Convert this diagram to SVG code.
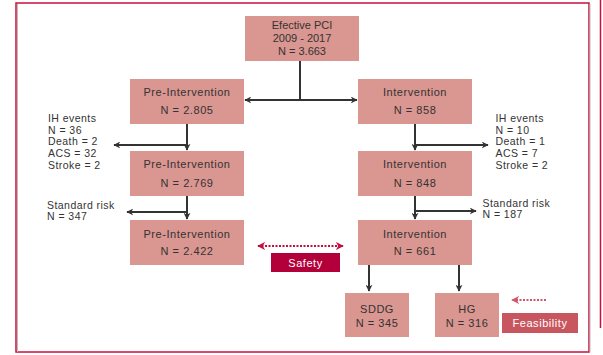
<svg xmlns="http://www.w3.org/2000/svg" width="603" height="355" viewBox="0 0 603 355">
<defs>
<style>
.box{fill:#DA9690;}
.t{font-family:"Liberation Sans",Arial,sans-serif;font-size:11px;fill:#333;letter-spacing:0.55px;}
.s{font-size:10.5px;letter-spacing:0.45px;}
.n{letter-spacing:0;}
.c{text-anchor:middle;}
.w{fill:#fff;}
.ln{stroke:#333;stroke-width:2;fill:none;}
.dot{stroke:#C0103F;stroke-width:2.2;fill:none;stroke-dasharray:2 1.5;}
.dot2{stroke:#D0566A;stroke-width:2.2;fill:none;stroke-dasharray:2 1.5;}
</style>
<marker id="ah" viewBox="0 0 10 10" refX="9" refY="5" markerWidth="7" markerHeight="7" orient="auto" markerUnits="userSpaceOnUse">
<path d="M0,0 L10,5 L0,10 L3,5 z" fill="#333"/>
</marker>
<marker id="ahr" viewBox="0 0 10 10" refX="9" refY="5" markerWidth="8" markerHeight="8" orient="auto-start-reverse" markerUnits="userSpaceOnUse">
<path d="M0,0 L10,5 L0,10 L3,5 z" fill="#C0103F"/>
</marker>
<marker id="ahp" viewBox="0 0 10 10" refX="9" refY="5" markerWidth="8" markerHeight="8" orient="auto" markerUnits="userSpaceOnUse">
<path d="M0,0 L10,5 L0,10 L3,5 z" fill="#D0566A"/>
</marker>
</defs>
<rect width="603" height="355" fill="#fff"/>
<g id="frame">
<rect x="16" y="3" width="573" height="349" fill="none" stroke="#C8103E" stroke-width="1.5"/>
<line x1="17.5" y1="4" x2="17.5" y2="352" stroke="#bbb" stroke-width="1"/>
<line x1="590" y1="4" x2="590" y2="352" stroke="#bbb" stroke-width="1"/>
<line x1="600.5" y1="0" x2="600.5" y2="328" stroke="#C8103E" stroke-width="1.5"/>
</g>
<g id="connectors">
<polyline class="ln" points="300,61 300,100"/>
<line class="ln" x1="300" y1="100" x2="245" y2="100" marker-end="url(#ah)"/>
<line class="ln" x1="300" y1="100" x2="357" y2="100" marker-end="url(#ah)"/>
<line class="ln" x1="187" y1="124" x2="187" y2="150" marker-end="url(#ah)"/>
<line class="ln" x1="187" y1="145" x2="114" y2="145" marker-end="url(#ah)"/>
<line class="ln" x1="415" y1="124" x2="415" y2="150" marker-end="url(#ah)"/>
<line class="ln" x1="415" y1="145" x2="488" y2="145" marker-end="url(#ah)"/>
<line class="ln" x1="187" y1="196" x2="187" y2="219" marker-end="url(#ah)"/>
<line class="ln" x1="187" y1="212" x2="127" y2="212" marker-end="url(#ah)"/>
<line class="ln" x1="415" y1="196" x2="415" y2="219" marker-end="url(#ah)"/>
<line class="ln" x1="415" y1="211" x2="476" y2="211" marker-end="url(#ah)"/>
<line class="ln" x1="369" y1="265" x2="369" y2="291" marker-end="url(#ah)"/>
<line class="ln" x1="459" y1="265" x2="459" y2="291" marker-end="url(#ah)"/>
<line class="dot" x1="258" y1="246" x2="343" y2="246" marker-start="url(#ahr)" marker-end="url(#ahr)"/>
<line class="dot2" x1="546" y1="300" x2="512" y2="300" marker-end="url(#ahp)"/>
</g>
<g id="n-top">
<rect class="box" x="245" y="16" width="114" height="45"/>
<text class="t c n" x="302" y="29">Efective PCI</text>
<text class="t c n" x="302" y="41.8">2009 - 2017</text>
<text class="t c n" x="302" y="54.6">N = 3.663</text>
</g>
<g id="n-pre1">
<rect class="box" x="130" y="79" width="114" height="45"/>
<text class="t c" x="187" y="96">Pre-Intervention</text>
<text class="t c" x="187" y="114">N = 2.805</text>
</g>
<g id="n-int1">
<rect class="box" x="358" y="79" width="114" height="45"/>
<text class="t c" x="415" y="96">Intervention</text>
<text class="t c" x="415" y="114">N = 858</text>
</g>
<g id="n-pre2">
<rect class="box" x="130" y="151" width="114" height="45"/>
<text class="t c" x="187" y="168">Pre-Intervention</text>
<text class="t c" x="187" y="186.5">N = 2.769</text>
</g>
<g id="n-int2">
<rect class="box" x="358" y="151" width="114" height="45"/>
<text class="t c" x="415" y="168">Intervention</text>
<text class="t c" x="415" y="186.5">N = 848</text>
</g>
<g id="n-pre3">
<rect class="box" x="130" y="220" width="114" height="45"/>
<text class="t c" x="187" y="237.5">Pre-Intervention</text>
<text class="t c" x="187" y="255">N = 2.422</text>
</g>
<g id="n-int3">
<rect class="box" x="358" y="220" width="114" height="45"/>
<text class="t c" x="415" y="237.5">Intervention</text>
<text class="t c" x="415" y="255">N = 661</text>
</g>
<g id="n-sddg">
<rect class="box" x="345" y="293" width="64" height="44"/>
<text class="t c" x="377" y="313">SDDG</text>
<text class="t c" x="377" y="326.5">N = 345</text>
</g>
<g id="n-hg">
<rect class="box" x="435" y="293" width="64" height="44"/>
<text class="t c" x="467" y="313">HG</text>
<text class="t c" x="467" y="326.5">N = 316</text>
</g>
<g id="n-ih-left">
<text class="t s" x="48" y="121.8">IH events</text>
<text class="t s" x="48" y="133.5">N = 36</text>
<text class="t s" x="48" y="145.2">Death = 2</text>
<text class="t s" x="48" y="156.9">ACS = 32</text>
<text class="t s" x="48" y="168.6">Stroke = 2</text>
</g>
<g id="n-ih-right">
<text class="t s" x="495.5" y="121.8">IH events</text>
<text class="t s" x="495.5" y="133.5">N = 10</text>
<text class="t s" x="495.5" y="145.2">Death = 1</text>
<text class="t s" x="495.5" y="156.9">ACS = 7</text>
<text class="t s" x="495.5" y="168.6">Stroke = 2</text>
</g>
<g id="n-sr-left">
<text class="t s" x="47" y="208.6">Standard risk</text>
<text class="t s" x="47" y="220.3">N = 347</text>
</g>
<g id="n-sr-right">
<text class="t s" x="482.5" y="206.6">Standard risk</text>
<text class="t s" x="482.5" y="218.3">N = 187</text>
</g>
<g id="n-safety">
<rect x="271" y="253" width="69" height="19" fill="#B4003A"/>
<text class="t c w" x="305.5" y="266.5">Safety</text>
</g>
<g id="n-feas">
<rect x="502" y="313" width="76" height="20" fill="#C8565F"/>
<text class="t c w" x="540" y="327">Feasibility</text>
</g>
</svg>
